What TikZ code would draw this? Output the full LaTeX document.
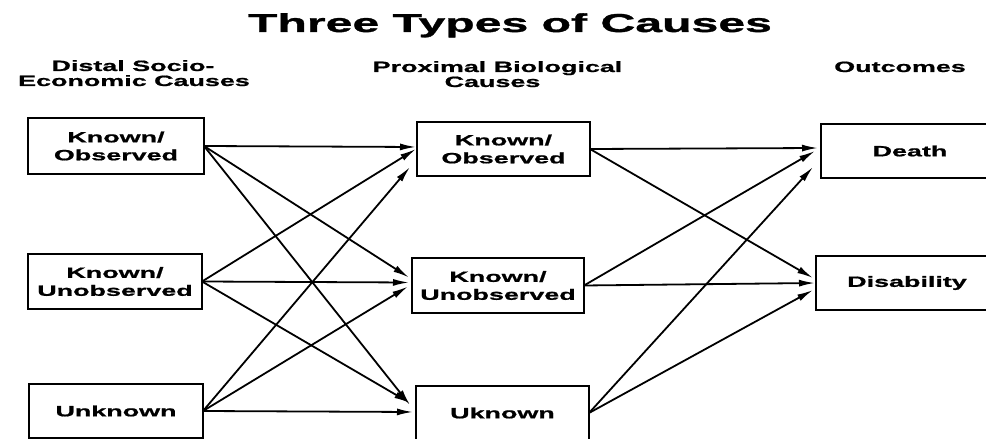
\documentclass[tikz,border=0pt]{standalone}
\usepackage{fontspec}
\newfontfamily\wfont{Liberation Sans}[FakeStretch=1.8, BoldFeatures={FakeBold=1}]
\newfontfamily\tfont{Liberation Sans}[FakeStretch=1.86, BoldFeatures={FakeBold=1.2}]
\usetikzlibrary{arrows.meta,calc}
\tikzset{
  txt/.style={font=\wfont\bfseries\fontsize{15}{18}\selectfont, align=center},
  cbox/.style={txt, draw, line width=2bp, inner sep=0pt, outer sep=0pt},
  hdr/.style={font=\wfont\bfseries\fontsize{15}{18}\selectfont, anchor=base, inner sep=0pt},
  arr/.style={-{Latex[length=16bp,width=7bp]}, line width=1.8bp},
}
\begin{document}
\begin{tikzpicture}[x=1bp,y=-1bp]
\useasboundingbox (0,0) rectangle (986,439);
\clip (0,0) rectangle (986,439);
\fill[white] (0,0) rectangle (986,439);
% title and headers
\node[anchor=base, inner sep=0pt, font=\tfont\bfseries\fontsize{26}{30}\selectfont] (title) at (510,32) {Three Types of Causes};
\node[hdr] (h1a) at (133,71) {Distal Socio-};
\node[hdr] (h1b) at (134,86) {Economic Causes};
\node[hdr] (h2a) at (497.5,72) {Proximal Biological};
\node[hdr] (h2b) at (492.5,87) {Causes};
\node[hdr] (h3) at (900,72) {Outcomes};
% left column
\node[cbox, minimum width=176bp, minimum height=56bp] (L1) at (116,146) {Known/\\Observed};
\node[cbox, minimum width=174bp, minimum height=55bp] (L2) at (115,281.5) {Known/\\Unobserved};
\node[cbox, minimum width=174bp, minimum height=54bp] (L3) at (116,411) {Unknown};
% middle column
\node[cbox, minimum width=173bp, minimum height=54bp] (M1) at (503.5,149) {Known/\\Observed};
\node[cbox, minimum width=172bp, minimum height=55bp] (M2) at (498,285.5) {Known/\\Unobserved};
\node[cbox, minimum width=173bp, minimum height=54bp] (M3) at (502.5,413) {Uknown};
% right column
\node[cbox, minimum width=178bp, minimum height=54bp] (R1) at (910,151) {Death};
\node[cbox, minimum width=182bp, minimum height=54bp] (R2) at (907,283) {Disability};
% left -> middle
\draw[arr] (L1.east) -- ($(M1.west)+(-1,-2)$);
\draw[arr] (L1.east) -- ($(M2.west)+(-3,-8)$);
\draw[arr] (L1.east) -- ($(M3.west)+(-6,-8)$);
\draw[arr] (L2.east) -- ($(M1.west)+(-1,0)$);
\draw[arr] (L2.east) -- ($(M2.west)+(-3,-3)$);
\draw[arr] (L2.east) -- ($(M3.west)+(-6,-10)$);
\draw[arr] (L3.east) -- ($(M1.west)+(-7,18)$);
\draw[arr] (L3.east) -- ($(M2.west)+(-4,1)$);
\draw[arr] (L3.east) -- ($(M3.west)+(-3,-1)$);
% middle -> right
\draw[arr] (M1.east) -- ($(R1.west)+(-3,-3)$);
\draw[arr] (M1.east) -- ($(R2.west)+(-3,-5)$);
\draw[arr] (M2.east) -- ($(R1.west)+(-6,0)$);
\draw[arr] (M2.east) -- ($(R2.west)+(-1,0)$);
\draw[arr] (M3.east) -- ($(R1.west)+(-8,16)$);
\draw[arr] (M3.east) -- ($(R2.west)+(-3,7)$);
\end{tikzpicture}
\end{document}
